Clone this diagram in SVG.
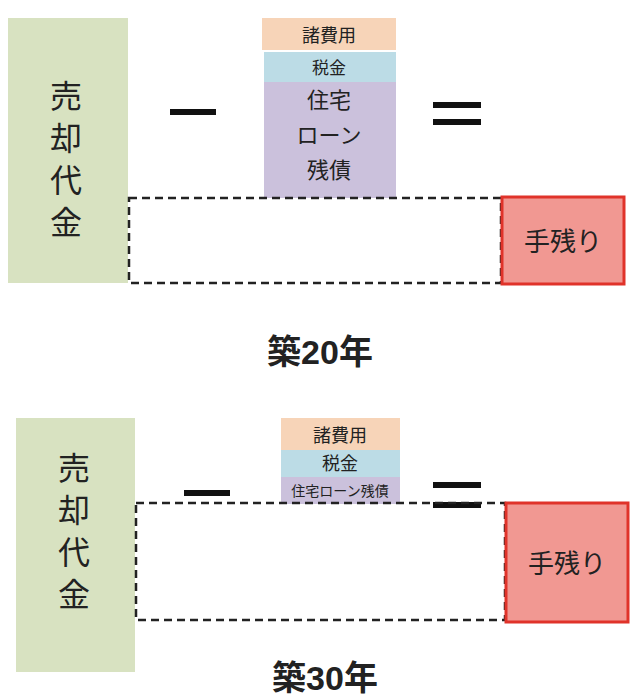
<svg xmlns="http://www.w3.org/2000/svg" width="640" height="699" viewBox="0 0 640 699">
<style>
text{font-family:"Liberation Sans","Noto Sans CJK JP",sans-serif;fill:#222;text-anchor:middle}
.g{fill:#d8e2c1}.p{fill:#f7d4b8}.b{fill:#bcdce6}.v{fill:#cbc1dc}
.d{fill:none;stroke:#222;stroke-width:2.5;stroke-dasharray:8,5}
.r{fill:#f19892;stroke:#e0332a;stroke-width:3}
.op{stroke:#111;stroke-width:6}
.vt{font-size:32px}
</style>
<g id="top">
<rect class="g" x="8" y="18" width="120" height="265"/>
<text class="vt" x="66" y="108">売</text>
<text class="vt" x="66" y="150">却</text>
<text class="vt" x="66" y="192">代</text>
<text class="vt" x="66" y="234">金</text>
<line class="op" x1="170" y1="112" x2="216" y2="112"/>
<rect class="p" x="262" y="18" width="134" height="32"/>
<text x="329" y="42" font-size="18">諸費用</text>
<rect class="b" x="264" y="52" width="132" height="30"/>
<text x="329" y="74" font-size="17">税金</text>
<rect class="v" x="264" y="82" width="132" height="116"/>
<text x="329" y="108" font-size="22">住宅</text>
<text x="329" y="143" font-size="22">ローン</text>
<text x="329" y="178" font-size="22">残債</text>
<line class="op" x1="433" y1="105" x2="481" y2="105"/>
<line class="op" x1="433" y1="122" x2="481" y2="122"/>
<rect class="d" x="129" y="198" width="372" height="85"/>
<rect class="r" x="502" y="197" width="122" height="87"/>
<text x="563" y="251" font-size="26">手残り</text>
<text x="320" y="364" font-size="34" font-weight="bold">築20年</text>
</g>
<g id="bottom">
<rect class="g" x="16" y="418" width="119" height="254"/>
<text class="vt" x="74" y="480">売</text>
<text class="vt" x="74" y="522">却</text>
<text class="vt" x="74" y="564">代</text>
<text class="vt" x="74" y="606">金</text>
<line class="op" x1="184" y1="493" x2="230" y2="493"/>
<rect class="p" x="281" y="418" width="119" height="32"/>
<text x="340" y="442" font-size="18">諸費用</text>
<rect class="b" x="281" y="450" width="119" height="27"/>
<text x="340" y="470" font-size="18">税金</text>
<rect class="v" x="281" y="477" width="119" height="27"/>
<text x="340" y="496" font-size="14">住宅ローン残債</text>
<line class="op" x1="433" y1="485" x2="481" y2="485"/>
<line class="op" x1="433" y1="505" x2="481" y2="505"/>
<rect class="d" x="136" y="503" width="369" height="117"/>
<rect class="r" x="506" y="503" width="122" height="119"/>
<text x="567" y="573" font-size="26">手残り</text>
<text x="325" y="690" font-size="34" font-weight="bold">築30年</text>
</g>
</svg>
